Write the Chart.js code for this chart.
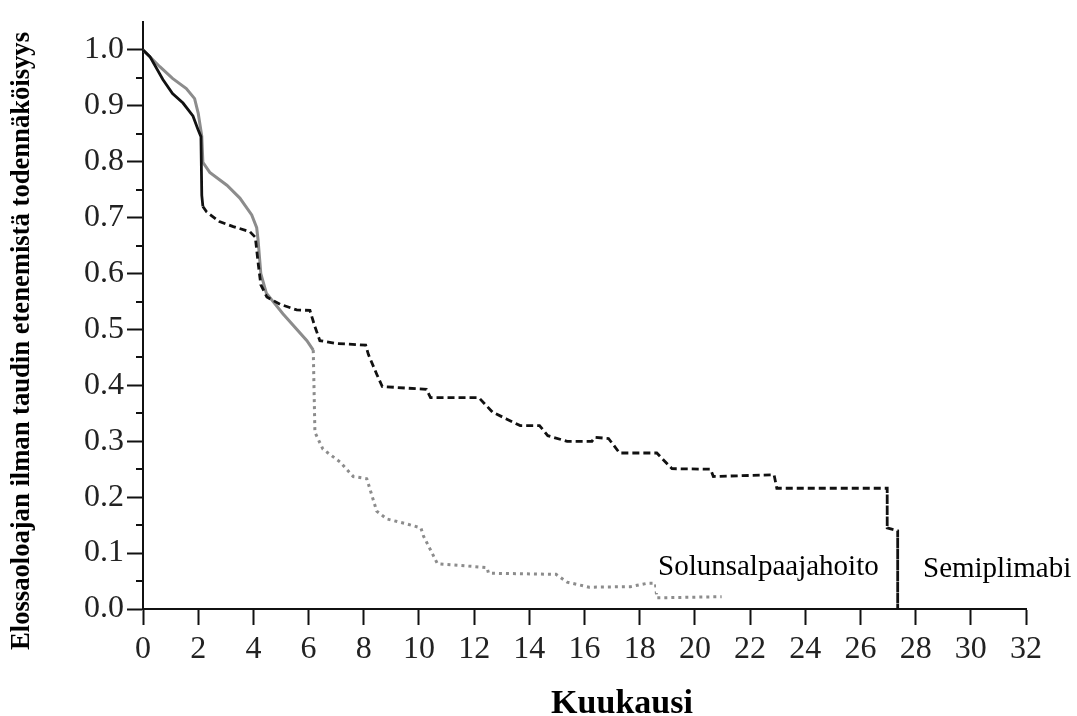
<!DOCTYPE html>
<html><head><meta charset="utf-8">
<script src="https://cdn.jsdelivr.net/npm/chart.js@4"></script>
<style>html,body{margin:0;padding:0;background:#fff;}#wrap{width:1077px;height:716px;position:relative;}</style>
</head><body><div id="wrap"><canvas id="c" width="1077" height="716"></canvas></div>
<script>
// ---- data ----
const semiplimabiMonths = [0,0.25,0.72,1.07,1.45,1.81,1.99,2.1,2.13,2.17,2.31,2.77,3.27,3.87,4.07,4.17,4.27,4.49,4.97,5.57,6.05,6.23,6.41,6.97,8.07,8.17,8.47,8.67,9.57,10.27,10.42,12.17,12.67,13.17,13.67,14.37,14.67,15.37,16.27,16.37,16.87,17.27,18.62,19.17,20.57,20.67,22.87,22.97,26.97,26.97,27.35,27.35];
const semiplimabiSurvival = [1.0,0.988,0.947,0.922,0.905,0.882,0.858,0.845,0.74,0.72,0.71,0.693,0.684,0.675,0.665,0.62,0.58,0.558,0.545,0.535,0.534,0.505,0.48,0.475,0.472,0.455,0.42,0.398,0.395,0.393,0.378,0.378,0.352,0.34,0.328,0.328,0.31,0.30,0.30,0.307,0.305,0.279,0.279,0.251,0.25,0.237,0.24,0.216,0.216,0.145,0.14,0.0];
const chemoMonths = [0,0.61,1.07,1.57,1.87,2.0,2.13,2.17,2.42,3.04,3.51,3.94,4.12,4.17,4.27,4.47,5.07,5.94,6.17,6.23,6.52,7.14,7.62,8.11,8.47,8.84,9.57,10.07,10.17,10.67,11.97,12.47,12.52,14.97,15.37,16.17,17.67,18.27,18.57,18.62,20.97];
const chemoSurvival = [1.0,0.97,0.949,0.931,0.913,0.887,0.846,0.799,0.781,0.758,0.735,0.705,0.682,0.66,0.6,0.565,0.528,0.48,0.463,0.316,0.286,0.263,0.237,0.233,0.175,0.161,0.152,0.145,0.13,0.081,0.076,0.074,0.064,0.062,0.048,0.039,0.04,0.046,0.046,0.02,0.022];
const seriesNames = ['Semiplimabi','Solunsalpaajahoito'];
const xTickValues = [0,2,4,6,8,10,12,14,16,18,20,22,24,26,28,30,32];
const yTickValues = [0.0,0.1,0.2,0.3,0.4,0.5,0.6,0.7,0.8,0.9,1.0];
const yMinorTickValues = [0.05,0.15,0.25,0.35,0.45,0.55,0.65,0.75,0.85,0.95];
const xAxisTitle = 'Kuukausi';
const yAxisTitle = 'Elossaoloajan ilman taudin etenemistä todennäköisyys';

const SERIF = "'Liberation Serif','Times New Roman',serif";

const pts = (xs, ys) => xs.map((x, i) => ({x: x, y: ys[i]}));

const decorPlugin = {
  id: 'decor',
  afterDraw(chart) {
    const ctx = chart.ctx;
    const ys = chart.scales.y;
    const area = chart.chartArea;
    ctx.save();
    // minor ticks on y axis
    ctx.strokeStyle = '#111'; ctx.lineWidth = 2;
    yMinorTickValues.forEach(v => {
      const py = Math.round(ys.getPixelForValue(v));
      ctx.beginPath(); ctx.moveTo(area.left - 7, py); ctx.lineTo(area.left, py); ctx.stroke();
    });
    // y title
    ctx.fillStyle = '#000';
    let fs = 100;
    ctx.font = 'bold ' + fs + 'px ' + SERIF;
    const w = ctx.measureText(yAxisTitle).width;
    fs = 100 * 618 / w;
    ctx.font = 'bold ' + fs.toFixed(2) + 'px ' + SERIF;
    ctx.translate(22, 341);
    ctx.rotate(-Math.PI / 2);
    ctx.textAlign = 'center'; ctx.textBaseline = 'middle';
    ctx.fillText(yAxisTitle, 0, 0);
    ctx.restore();
    ctx.save();
    // x title
    ctx.fillStyle = '#000';
    ctx.font = 'bold 34px ' + SERIF;
    ctx.textAlign = 'center'; ctx.textBaseline = 'alphabetic';
    ctx.fillText(xAxisTitle, 622, 713);
    ctx.restore();
  },
  afterDatasetsDraw(chart) {
    const ctx = chart.ctx;
    ctx.save();
    ctx.font = '29px ' + SERIF;
    ctx.textBaseline = 'alphabetic'; ctx.textAlign = 'left';
    const l1 = seriesNames[1];
    const w1 = ctx.measureText(l1).width;
    ctx.fillStyle = '#fff';
    ctx.fillRect(656, 548, w1 + 4, 45);
    ctx.fillStyle = '#000';
    ctx.fillText(l1, 658, 575);
    ctx.fillText(seriesNames[0], 923, 577);
    ctx.restore();
  }
};

new Chart(document.getElementById('c'), {
  type: 'line',
  data: {
    datasets: [
      {
        label: seriesNames[0],
        data: pts(semiplimabiMonths, semiplimabiSurvival),
        borderColor: '#111', borderWidth: 2.8, fill: false,
        pointRadius: 0, tension: 0,
        segment: { borderDash: c => c.p0.parsed.x < 2.17 ? [] : [7, 4] }
      },
      {
        label: seriesNames[1],
        data: pts(chemoMonths, chemoSurvival),
        borderColor: '#8c8c8c', borderWidth: 3, fill: false,
        pointRadius: 0, tension: 0,
        segment: { borderDash: c => c.p0.parsed.x < 6.17 ? [] : [3, 4] }
      }
    ]
  },
  options: {
    responsive: false, animation: false, devicePixelRatio: 1,
    layout: { padding: { top: 17, right: 51, left: 0, bottom: 0 } },
    plugins: { legend: { display: false }, tooltip: { enabled: false } },
    scales: {
      x: {
        type: 'linear', min: 0, max: 32,
        afterFit(s) { s.height = 107; },
        afterBuildTicks(s) { s.ticks = xTickValues.map(v => ({ value: v })); },
        ticks: { font: { family: SERIF, size: 32 }, color: '#222', padding: 5, maxRotation: 0, autoSkip: false },
        grid: { drawOnChartArea: false, drawTicks: true, tickLength: 16, tickColor: '#111', tickWidth: 2 },
        border: { display: true, color: '#111', width: 2 }
      },
      y: {
        type: 'linear', min: 0, max: 1.0496,
        afterFit(s) { s.width = 143; },
        afterBuildTicks(s) { s.ticks = yTickValues.map(v => ({ value: v })); },
        ticks: { font: { family: SERIF, size: 32 }, color: '#222', padding: 3, callback: v => Number(v).toFixed(1) },
        grid: { drawOnChartArea: false, drawTicks: true, tickLength: 16, tickColor: '#111', tickWidth: 2 },
        border: { display: true, color: '#111', width: 2 }
      }
    }
  },
  plugins: [decorPlugin]
});
</script></body></html>
